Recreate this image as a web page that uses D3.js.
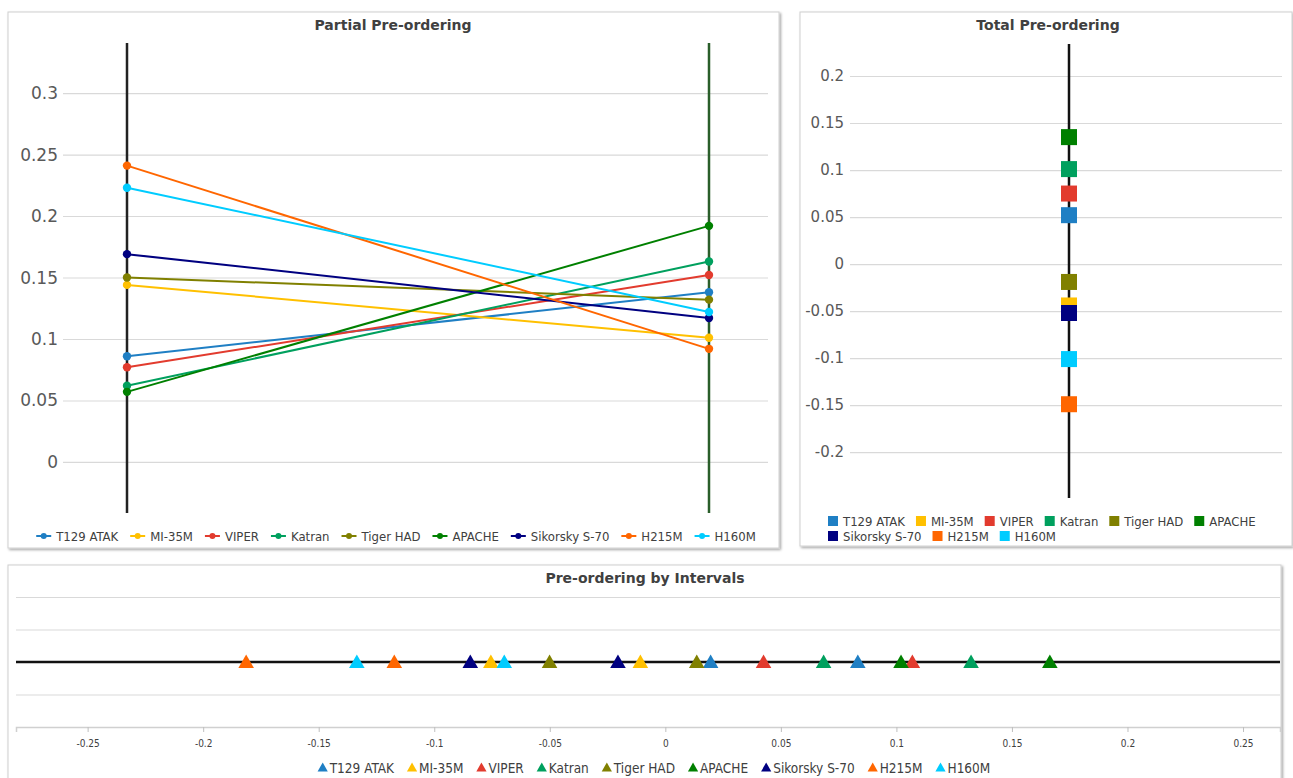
<!DOCTYPE html>
<html>
<head>
<meta charset="utf-8">
<script src="https://cdn.jsdelivr.net/npm/d3@7"></script>
<style>
  body { margin: 0; background: #fff; font-family: "DejaVu Sans", Verdana, sans-serif; }
  #chart { width: 1293px; height: 778px; }
  .grid line { stroke: #d9d9d9; stroke-width: 1.2; }
  .grid path { display: none; }
  .tick-label { fill: #595959; }
  .title { font-weight: bold; fill: #404040; font-size: 14px; text-anchor: middle; }
  .legend-text { fill: #404040; font-family: "DejaVu Sans Condensed", "DejaVu Sans", sans-serif; font-stretch: condensed; }
</style>
</head>
<body>
<div id="chart"></div>
<script>
// helicopters and their colours
const names = ['T129 ATAK', 'MI-35M', 'VIPER', 'Katran', 'Tiger HAD', 'APACHE', 'Sikorsky S-70', 'H215M', 'H160M'];
const colors = ['#1f7fc4', '#ffc000', '#e23b2e', '#00a05e', '#808000', '#008000', '#000080', '#ff6600', '#00ccff'];

// partial pre-ordering: value on the left axis and on the right axis
const partialLeft = [0.086, 0.144, 0.077, 0.062, 0.150, 0.057, 0.169, 0.241, 0.223];
const partialRight = [0.138, 0.101, 0.152, 0.163, 0.132, 0.192, 0.117, 0.092, 0.122];
const partialTicks = [0, 0.05, 0.1, 0.15, 0.2, 0.25, 0.3];

// total pre-ordering
const totalValues = [0.052, -0.044, 0.075, 0.101, -0.019, 0.135, -0.052, -0.149, -0.101];
const totalTicks = [-0.2, -0.15, -0.1, -0.05, 0, 0.05, 0.1, 0.15, 0.2];

// pre-ordering by intervals: lower and upper bound
const intervalLow = [0.0196, -0.0755, 0.0425, 0.0685, -0.0501, 0.102, -0.0844, -0.1814, -0.1335];
const intervalHigh = [0.0833, -0.0108, 0.1069, 0.1323, 0.0136, 0.1664, -0.0205, -0.1173, -0.0697];
const intervalTicks = [-0.25, -0.2, -0.15, -0.1, -0.05, 0, 0.05, 0.1, 0.15, 0.2, 0.25];

const fmt = (d) => (d === 0 ? '0' : String(+d.toFixed(2)));

const svg = d3.select('#chart')
  .append('svg')
  .attr('width', 1293)
  .attr('height', 778);

const defs = svg.append('defs');
const shadow = defs.append('filter').attr('id', 'shadow')
  .attr('x', '-2%').attr('y', '-2%').attr('width', '104%').attr('height', '104%');
shadow.append('feDropShadow')
  .attr('dx', 1.5).attr('dy', 1.5).attr('stdDeviation', 1.2)
  .attr('flood-color', '#000').attr('flood-opacity', 0.35);

const drawPanel = (x, y, w, h) => {
  svg.append('rect')
    .attr('x', x).attr('y', y)
    .attr('width', w).attr('height', h)
    .attr('fill', '#fff')
    .attr('stroke', '#d0d0d0')
    .attr('filter', 'url(#shadow)');
};

// lays legend items one after another, centred on cx, wrapping at maxW
const drawLegend = (items, cx, y, maxW, markerW, drawMarker, fontSize, rowH, gap, leftAlign) => {
  const g = svg.append('g');
  const widths = items.map((d) => {
    const t = g.append('text').attr('class', 'legend-text').style('font-size', `${fontSize}px`).text(d.name);
    const w = t.node().getComputedTextLength();
    t.remove();
    return markerW + w + gap;
  });
  const rows = [[]];
  let rowW = 0;
  items.forEach((d, i) => {
    if (rowW + widths[i] - gap > maxW && rows[rows.length - 1].length) {
      rows.push([]);
      rowW = 0;
    }
    rows[rows.length - 1].push(i);
    rowW += widths[i];
  });
  rows.forEach((row, r) => {
    const total = d3.sum(row, (i) => widths[i]) - gap;
    let x = leftAlign !== undefined ? leftAlign : cx - total / 2;
    row.forEach((i) => {
      const item = g.append('g').attr('transform', `translate(${x},${y + r * rowH})`);
      drawMarker(item, items[i].color);
      item.append('text')
        .attr('class', 'legend-text')
        .style('font-size', `${fontSize}px`)
        .attr('x', markerW)
        .attr('y', fontSize * 0.36)
        .text(items[i].name);
      x += widths[i];
    });
  });
};

const items = names.map((n, i) => ({ name: n, color: colors[i] }));

// ---------- Partial Pre-ordering ----------
drawPanel(8, 12, 771, 536);
svg.append('text').attr('class', 'title').attr('x', 393).attr('y', 30).text('Partial Pre-ordering');

const pY = d3.scaleLinear().domain([-0.0415, 0.3407]).range([513, 43]);
const pX = d3.scalePoint().domain(['left', 'right']).range([127, 709]);

svg.append('g')
  .attr('class', 'grid')
  .attr('transform', 'translate(63,0)')
  .call(d3.axisLeft(pY).tickValues(partialTicks).tickSize(-705).tickFormat(''));

svg.append('g')
  .selectAll('text')
  .data(partialTicks)
  .enter()
  .append('text')
  .attr('class', 'tick-label')
  .attr('x', 58)
  .attr('y', (d) => pY(d) + 6)
  .attr('text-anchor', 'end')
  .style('font-size', '17px')
  .text(fmt);

svg.append('line')
  .attr('x1', pX('left')).attr('x2', pX('left'))
  .attr('y1', pY.range()[1]).attr('y2', pY.range()[0])
  .attr('stroke', '#222').attr('stroke-width', 2.5);
svg.append('line')
  .attr('x1', pX('right')).attr('x2', pX('right'))
  .attr('y1', pY.range()[1]).attr('y2', pY.range()[0])
  .attr('stroke', '#2a5e2a').attr('stroke-width', 2.5);

const partialData = names.map((n, i) => ({
  name: n,
  color: colors[i],
  points: [{ side: 'left', v: partialLeft[i] }, { side: 'right', v: partialRight[i] }],
}));

const line = d3.line().x((d) => pX(d.side)).y((d) => pY(d.v));

const series = svg.append('g')
  .selectAll('g')
  .data(partialData)
  .enter()
  .append('g');

series.append('path')
  .attr('fill', 'none')
  .attr('stroke', (d) => d.color)
  .attr('stroke-width', 2)
  .attr('d', (d) => line(d.points));

series.selectAll('circle')
  .data((d) => d.points.map((p) => ({ ...p, color: d.color })))
  .enter()
  .append('circle')
  .attr('cx', (d) => pX(d.side))
  .attr('cy', (d) => pY(d.v))
  .attr('r', 4.2)
  .attr('fill', (d) => d.color);

drawLegend(items, 396, 536, 760, 20, (g, c) => {
  g.append('line').attr('x1', 0).attr('x2', 15).attr('y1', 0).attr('y2', 0)
    .attr('stroke', c).attr('stroke-width', 2);
  g.append('circle').attr('cx', 7.5).attr('cy', 0).attr('r', 3).attr('fill', c);
}, 13, 15, 12);

// ---------- Total Pre-ordering ----------
drawPanel(800, 12, 492, 534);
svg.append('text').attr('class', 'title').attr('x', 1048).attr('y', 30).text('Total Pre-ordering');

const tY = d3.scaleLinear().domain([-0.2487, 0.234]).range([498, 44]);
const tX = 1069;

svg.append('g')
  .attr('class', 'grid')
  .attr('transform', 'translate(850,0)')
  .call(d3.axisLeft(tY).tickValues(totalTicks).tickSize(-432).tickFormat(''));

svg.append('g')
  .selectAll('text')
  .data(totalTicks)
  .enter()
  .append('text')
  .attr('class', 'tick-label')
  .attr('x', 844)
  .attr('y', (d) => tY(d) + 5)
  .attr('text-anchor', 'end')
  .style('font-size', '15px')
  .text(fmt);

svg.append('line')
  .attr('x1', tX).attr('x2', tX)
  .attr('y1', tY.range()[1]).attr('y2', tY.range()[0])
  .attr('stroke', '#111').attr('stroke-width', 2.5);

const sq = 16;
svg.append('g')
  .selectAll('rect')
  .data(names.map((n, i) => ({ v: totalValues[i], color: colors[i] })))
  .enter()
  .append('rect')
  .attr('x', tX - sq / 2)
  .attr('y', (d) => tY(d.v) - sq / 2)
  .attr('width', sq)
  .attr('height', sq)
  .attr('fill', (d) => d.color);

drawLegend(items, 1046, 521, 458, 15, (g, c) => {
  g.append('rect').attr('x', 0).attr('y', -5).attr('width', 10).attr('height', 10).attr('fill', c);
}, 13, 15, 11, 828);

// ---------- Pre-ordering by Intervals ----------
drawPanel(8, 565, 1273, 220);
svg.append('text').attr('class', 'title').attr('x', 645).attr('y', 583).text('Pre-ordering by Intervals');

const iX = d3.scaleLinear().domain([-0.281, 0.266]).range([16, 1280]);
const iY = d3.scaleLinear().domain([-2, 2]).range([727, 597]);

svg.append('g')
  .attr('class', 'grid')
  .attr('transform', 'translate(16,0)')
  .call(d3.axisLeft(iY).ticks(4).tickSize(-1264).tickFormat(''));

const xAxis = svg.append('g')
  .attr('transform', `translate(0,${iY(-2)})`)
  .call(d3.axisBottom(iX).tickValues(intervalTicks).tickSize(5).tickFormat(fmt));
xAxis.select('.domain').attr('stroke', '#d0d0d0').attr('stroke-width', 1.5);
xAxis.selectAll('.tick line').attr('stroke', '#bfbfbf');
xAxis.selectAll('.tick text')
  .attr('fill', '#404040')
  .attr('dy', '1.2em')
  .style('font-size', '10px')
  .style('font-family', '"DejaVu Sans Condensed", "DejaVu Sans", sans-serif')
  .style('font-stretch', 'condensed');

svg.append('line')
  .attr('x1', iX.range()[0]).attr('x2', iX.range()[1])
  .attr('y1', iY(0)).attr('y2', iY(0))
  .attr('stroke', '#111').attr('stroke-width', 2.5);

const tri = d3.symbol().type(d3.symbolTriangle).size(105);
const intervalPoints = [];
names.forEach((n, i) => {
  intervalPoints.push({ v: intervalLow[i], color: colors[i] });
  intervalPoints.push({ v: intervalHigh[i], color: colors[i] });
});

svg.append('g')
  .selectAll('path')
  .data(intervalPoints)
  .enter()
  .append('path')
  .attr('d', tri)
  .attr('transform', (d) => `translate(${iX(d.v)},${iY(0) + 1.5})`)
  .attr('fill', (d) => d.color);

drawLegend(items, 654, 768, 1200, 12, (g, c) => {
  g.append('path').attr('d', d3.symbol().type(d3.symbolTriangle).size(45)).attr('transform', 'translate(5,0.5)').attr('fill', c);
}, 13.5, 15, 13);
</script>
</body>
</html>
